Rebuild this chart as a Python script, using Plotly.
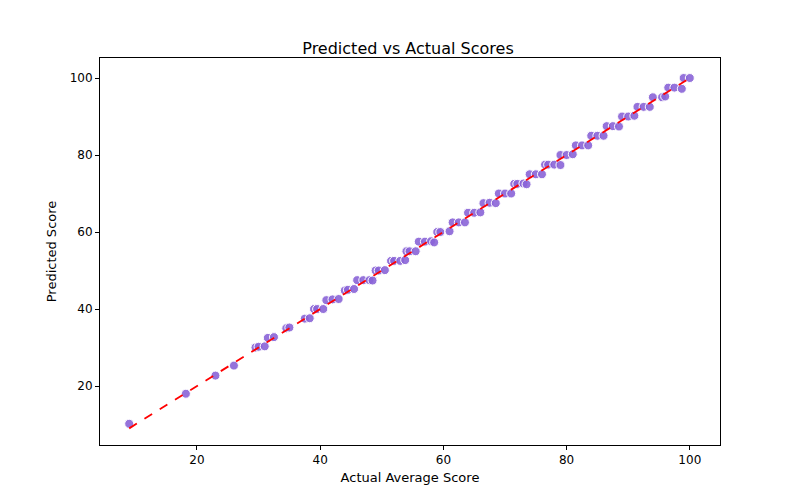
import plotly.graph_objects as go

actual = [9,18.2,23,26,29.5,30,31,31.5,32.5,34.5,35,37.5,38.3,39,39.5,40.5,41,42,43,44,44.5,45.5,46,47,48,48.5,49,49.5,50.5,51.5,52,53,53.8,54,54.5,55.5,56,57,58,58.5,59,59.5,61,61.5,62.5,63.5,64,65,66,66.5,67.5,68.5,69,70,71,71.5,72,73,73.5,74,75,76,76.5,77,78,79,79,80,81,81.5,82.5,83.5,84,85,86,86.5,87.5,88.5,89,90,91,91.5,92.5,93.5,94,95.5,96,96.5,97.5,98.7,99,100]
predicted = [10.2,18,22.7,25.3,30,30.2,30.3,32.5,32.7,35,35.2,37.5,37.6,40,40,40,42.3,42.5,42.6,44.8,45,45.2,47.5,47.5,47.5,47.4,50,50,50.1,52.5,52.5,52.5,52.7,55,55,55,57.5,57.5,57.6,57.3,60,60,60.2,62.5,62.5,62.5,65,65,65.1,67.5,67.6,67.5,70,70,70,72.5,72.5,72.6,72.4,75,75,75,77.5,77.5,77.5,77.4,80,80,80.2,82.5,82.5,82.5,85,85,85,87.5,87.5,87.4,90,90,90.2,92.5,92.5,92.5,95,95,95.2,97.5,97.5,97.2,100,100]
line_x = [min(actual), max(actual)]

fig = go.Figure()
fig.add_trace(go.Scatter(x=actual, y=predicted, mode="markers",
    marker=dict(size=9, color="rgba(138,100,215,0.9)", line=dict(color="white", width=1)),
    showlegend=False))
fig.add_trace(go.Scatter(x=line_x, y=line_x, mode="lines",
    line=dict(color="red", dash="dash", width=1.8), showlegend=False))

ax = dict(showgrid=False, zeroline=False, showline=True, mirror=True, linecolor="black",
          ticks="outside", ticklen=4, tickcolor="black", tickfont=dict(size=12, color="black"))
fig.update_layout(
    width=800, height=500, plot_bgcolor="white", paper_bgcolor="white",
    font=dict(family="DejaVu Sans", color="black"),
    margin=dict(l=92, r=88, t=50, b=63),
    title=dict(text="Predicted vs Actual Scores", x=0.5, xanchor="center", y=0.93, font=dict(size=16)),
    xaxis=dict(ax, range=[4.26, 104.9], tickvals=[20,40,60,80,100],
               title=dict(text="Actual Average Score", font=dict(size=13), standoff=6)),
    yaxis=dict(ax, range=[4.68, 105.2], tickvals=[20,40,60,80,100],
               title=dict(text="Predicted Score", font=dict(size=13), standoff=10)),
)
fig.write_html("out.html")
